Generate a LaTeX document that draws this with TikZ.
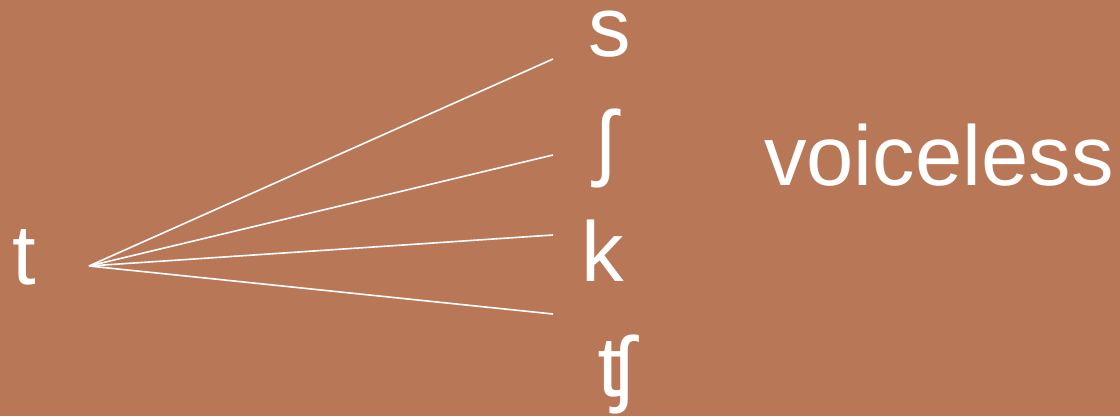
\documentclass[tikz,border=0pt]{standalone}
\usepackage{fontspec}
\setmainfont{Liberation Sans}
\definecolor{bg}{RGB}{184,119,87}
\tikzset{
  lbl/.style={text=white, font=\fontsize{85}{85}\selectfont, inner sep=0pt, anchor=base west},
  link/.style={draw=white, line width=1.6pt},
}
\begin{document}
\begin{tikzpicture}[x=1pt,y=1pt]
\fill[bg] (0,0) rectangle (1120,416);
\useasboundingbox (0,0) rectangle (1120,416);
\node[lbl] (t) at (12,132) {t};
\coordinate (o) at (89,150);
\node[lbl, text height=46pt] (s) at (588,359) {s};
\node[lbl] (esh) at (596,246) {ʃ};
\node[lbl] (k) at (581,135) {k};
\node[lbl] (tesh) at (597,20) {ʧ};
\node[lbl] (v) at (764,231) {voiceless};
\coordinate (e1) at (553,357);
\coordinate (e2) at (553,261);
\coordinate (e3) at (553,181);
\coordinate (e4) at (553,102);
\draw[link] (o) -- (e1);
\draw[link] (o) -- (e2);
\draw[link] (o) -- (e3);
\draw[link] (o) -- (e4);
\end{tikzpicture}
\end{document}
